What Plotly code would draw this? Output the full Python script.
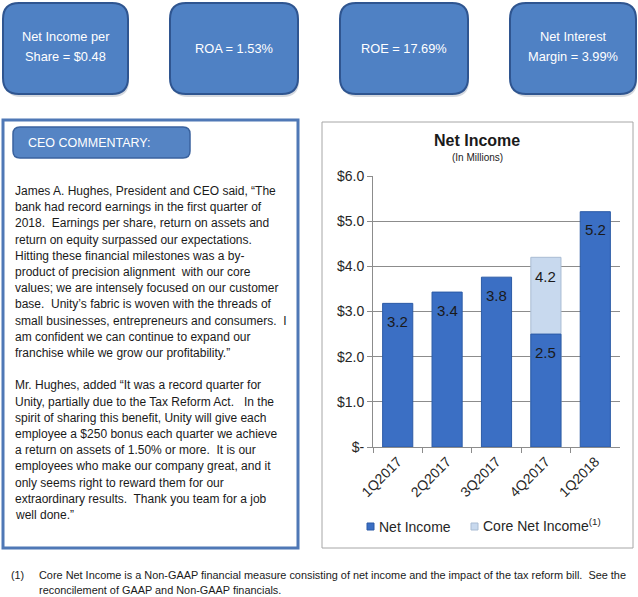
import plotly.graph_objects as go

W, H = 638, 597

# ---------------- data ----------------
quarters = ["1Q2017", "2Q2017", "3Q2017", "4Q2017", "1Q2018"]
net_income = [3.18, 3.43, 3.76, 2.50, 5.21]
core_net_income = [None, None, None, 4.20, None]
y_tick_vals = [0, 1, 2, 3, 4, 5, 6]
y_tick_text = ["$-", "$1.0", "$2.0", "$3.0", "$4.0", "$5.0", "$6.0"]
series_names = ["Net Income", "Core Net Income<sup>(1)</sup>"]

kpi_boxes = [
    ["Net Income per", "Share = $0.48"],
    ["ROA = 1.53%"],
    ["ROE = 17.69%"],
    ["Net Interest", "Margin = 3.99%"],
]

ceo_lines = [
    "James A. Hughes, President and CEO said, \u201cThe",
    "bank had record earnings in the first quarter of",
    "2018.  Earnings per share, return on assets and",
    "return on equity surpassed our expectations.",
    "Hitting these financial milestones was a by-",
    "product of precision alignment  with our core",
    "values; we are intensely focused on our customer",
    "base.  Unity\u2019s fabric is woven with the threads of",
    "small businesses, entrepreneurs and consumers.  I",
    "am confident we can continue to expand our",
    "franchise while we grow our profitability.\u201d",
    "",
    "Mr. Hughes, added \u201cIt was a record quarter for",
    "Unity, partially due to the Tax Reform Act.   In the",
    "spirit of sharing this benefit, Unity will give each",
    "employee a $250 bonus each quarter we achieve",
    "a return on assets of 1.50% or more.  It is our",
    "employees who make our company great, and it",
    "only seems right to reward them for our",
    "extraordinary results.  Thank you team for a job",
    "well done.\u201d",
]

footnote_lines = [
    "Core Net Income is a Non-GAAP financial measure consisting of net income and the impact of the tax reform bill.  See the",
    "reconcilement of GAAP and Non-GAAP financials.",
]

# ---------------- helpers ----------------
def X(px):
    return px / W

def Y(py):
    return 1 - py / H

def rrect(x0, y0, x1, y1, r):
    return (f"M {X(x0+r)},{Y(y0)} L {X(x1-r)},{Y(y0)} Q {X(x1)},{Y(y0)} {X(x1)},{Y(y0+r)} "
            f"L {X(x1)},{Y(y1-r)} Q {X(x1)},{Y(y1)} {X(x1-r)},{Y(y1)} "
            f"L {X(x0+r)},{Y(y1)} Q {X(x0)},{Y(y1)} {X(x0)},{Y(y1-r)} "
            f"L {X(x0)},{Y(y0+r)} Q {X(x0)},{Y(y0)} {X(x0+r)},{Y(y0)} Z")

FONT = "Liberation Sans, Arial, sans-serif"
BAR_BLUE = "#3B6FC4"
LIGHT_BLUE = "#C8D9EE"

fig = go.Figure()

fig.add_trace(go.Bar(
    x=quarters, y=core_net_income, name=series_names[1],
    marker=dict(color=LIGHT_BLUE, line=dict(color="#A9BCD3", width=1)),
    hoverinfo="skip", showlegend=False,
))
fig.add_trace(go.Bar(
    x=quarters, y=net_income, name=series_names[0],
    marker=dict(color=BAR_BLUE, line=dict(color="#2C5BA6", width=1)),
    hoverinfo="skip", showlegend=False,
))

shapes = []
annotations = []

# KPI boxes
box_x = [(3, 128), (170, 298), (340, 468), (510, 636)]
for (x0, x1), lines in zip(box_x, kpi_boxes):
    shapes.append(dict(type="path", xref="paper", yref="paper",
                       path=rrect(x0 + 2, 6, x1 + 1, 97, 16),
                       fillcolor="#D5D9DF", line=dict(width=0)))
    shapes.append(dict(type="path", xref="paper", yref="paper",
                       path=rrect(x0, 3, x1, 94, 16),
                       fillcolor="#4F81C4", line=dict(color="#2F5590", width=2)))
    cx = (x0 + x1) / 2
    ys = [48] if len(lines) == 1 else [36, 57]
    for t, yy in zip(lines, ys):
        annotations.append(dict(xref="paper", yref="paper", x=X(cx), y=Y(yy),
                                text=t, showarrow=False, xanchor="center", yanchor="middle",
                                font=dict(family=FONT, size=12.8, color="white")))

# CEO commentary box
shapes.append(dict(type="rect", xref="paper", yref="paper",
                   x0=X(3), x1=X(298), y0=Y(548), y1=Y(120),
                   line=dict(color="#4F78B6", width=3), fillcolor="white", layer="below"))
shapes.append(dict(type="path", xref="paper", yref="paper",
                   path=rrect(13, 127, 190, 158, 7),
                   fillcolor="#5584C4", line=dict(color="#3A629E", width=1.5)))
annotations.append(dict(xref="paper", yref="paper", x=X(26), y=Y(142.5),
                        text="CEO COMMENTARY:", showarrow=False, xanchor="left", yanchor="middle",
                        font=dict(family=FONT, size=12.5, color="white")))
for i, line in enumerate(ceo_lines):
    if not line:
        continue
    annotations.append(dict(xref="paper", yref="paper", x=X(13), y=Y(191 + 16.2 * i),
                            text=line, showarrow=False, xanchor="left", yanchor="middle",
                            font=dict(family=FONT, size=12, color="#1A1A1A")))

# Chart border
shapes.append(dict(type="rect", xref="paper", yref="paper",
                   x0=X(322), x1=X(633), y0=Y(548), y1=Y(122),
                   line=dict(color="#A6A6A6", width=1), fillcolor="rgba(0,0,0,0)", layer="below"))

# Chart title
annotations.append(dict(xref="paper", yref="paper", x=X(477), y=Y(140),
                        text="<b>Net Income</b>", showarrow=False, xanchor="center", yanchor="middle",
                        font=dict(family=FONT, size=16, color="#1A1A1A")))
annotations.append(dict(xref="paper", yref="paper", x=X(477), y=Y(157),
                        text="(In Millions)", showarrow=False, xanchor="center", yanchor="middle",
                        font=dict(family=FONT, size=10, color="#1A1A1A")))

# Bar value labels
for q, v in zip(quarters, net_income):
    annotations.append(dict(xref="x", yref="y", x=q, y=v, yshift=-18, text=f"{v:.1f}",
                            showarrow=False, xanchor="center", yanchor="middle",
                            font=dict(family=FONT, size=15, color="#1A1A1A")))
for q, v in zip(quarters, core_net_income):
    if v is None:
        continue
    annotations.append(dict(xref="x", yref="y", x=q, y=v, yshift=-19, text=f"{v:.1f}",
                            showarrow=False, xanchor="center", yanchor="middle",
                            font=dict(family=FONT, size=15, color="#1A1A1A")))

# Legend (manual, compact like the original)
legend_items = [(367, 377, BAR_BLUE, "#2C5BA6", series_names[0], 0),
                (471, 481, LIGHT_BLUE, "#A9BCD3", series_names[1], 2)]
for sx, tx, col, lc, name, ys in legend_items:
    shapes.append(dict(type="rect", xref="paper", yref="paper",
                       x0=X(sx), x1=X(sx + 7), y0=Y(530), y1=Y(523),
                       fillcolor=col, line=dict(color=lc, width=1)))
    annotations.append(dict(xref="paper", yref="paper", x=X(tx), y=Y(527), yshift=ys,
                            text=name, showarrow=False, xanchor="left", yanchor="middle",
                            font=dict(family=FONT, size=14, color="#262626")))

# Footnote
annotations.append(dict(xref="paper", yref="paper", x=X(9), y=Y(575),
                        text="(1)", showarrow=False, xanchor="left", yanchor="middle",
                        font=dict(family=FONT, size=10.8, color="#1A1A1A")))
for i, line in enumerate(footnote_lines):
    annotations.append(dict(xref="paper", yref="paper", x=X(37), y=Y(575 + 15 * i),
                            text=line, showarrow=False, xanchor="left", yanchor="middle",
                            font=dict(family=FONT, size=10.9, color="#1A1A1A")))

fig.update_layout(
    width=W, height=H,
    margin=dict(l=0, r=0, t=0, b=0, pad=0, autoexpand=False),
    paper_bgcolor="white", plot_bgcolor="white",
    barmode="overlay", bargap=0.39,
    font=dict(family=FONT, color="#262626"),
    shapes=shapes, annotations=annotations,
    showlegend=False,
    xaxis=dict(domain=[X(373), X(620)], type="category", categoryorder="array",
               categoryarray=quarters, tickangle=-45, ticks="outside", tickson="boundaries",
               ticklen=5, tickcolor="#8C8C8C", showline=True, linecolor="#8C8C8C",
               showgrid=False, automargin=False,
               tickfont=dict(family=FONT, size=14, color="#262626")),
    yaxis=dict(domain=[Y(447), Y(176)], range=[0, 6], tickvals=y_tick_vals, ticktext=y_tick_text,
               ticks="outside", ticklen=5, tickcolor="#8C8C8C", showline=True, linecolor="#8C8C8C",
               showgrid=True, gridcolor="#8C8C8C", zeroline=False, automargin=False,
               tickfont=dict(family=FONT, size=14, color="#262626")),
)

fig.write_html("out.html", config={"displayModeBar": False},
               post_script="document.body.style.margin='0';document.body.style.overflow='hidden';")
